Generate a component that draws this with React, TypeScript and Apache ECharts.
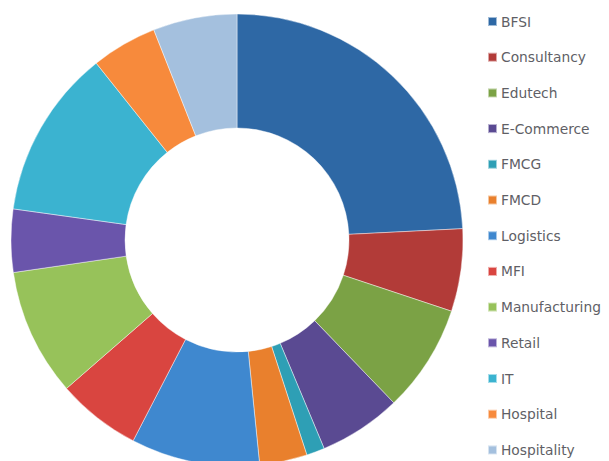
import React, { useEffect, useRef } from "react";
import * as echarts from "echarts";

const categories = [
  "BFSI",
  "Consultancy",
  "Edutech",
  "E-Commerce",
  "FMCG",
  "FMCD",
  "Logistics",
  "MFI",
  "Manufacturing",
  "Retail",
  "IT",
  "Hospital",
  "Hospitality",
];

const shares = [24.2, 5.9, 7.7, 5.9, 1.3, 3.4, 9.2, 6.0, 9.1, 4.5, 12.1, 4.7, 6.0];

const colors = [
  "#2E68A5",
  "#B23B38",
  "#7BA245",
  "#5A4A92",
  "#2E9FB5",
  "#E9802D",
  "#3F88CF",
  "#D94540",
  "#97C25A",
  "#6A55AB",
  "#3BB3D0",
  "#F78A3C",
  "#A4C0DE",
];

export default function App() {
  const ref = useRef<HTMLDivElement>(null);

  useEffect(() => {
    document.body.style.margin = "0";
    if (!ref.current) return;
    const chart = echarts.init(ref.current, null, { renderer: "svg" });
    chart.setOption({
      animation: false,
      backgroundColor: "#ffffff",
      color: colors,
      legend: {
        type: "plain",
        orient: "vertical",
        left: 487,
        top: 14.5,
        padding: 0,
        icon: "rect",
        itemWidth: 9,
        itemHeight: 9,
        itemGap: 21.7,
        textStyle: {
          fontFamily: "DejaVu Sans",
          fontSize: 13.8,
          lineHeight: 14,
          color: "#5f5f66",
          padding: [0, 0, 0, -1],
        },
        data: categories,
      },
      series: [
        {
          type: "pie",
          center: [237, 240],
          radius: [112, 226],
          startAngle: 90,
          clockwise: true,
          label: { show: false },
          labelLine: { show: false },
          emphasis: { disabled: true },
          itemStyle: {
            borderColor: "rgba(255,255,255,0.55)",
            borderWidth: 0.8,
          },
          data: categories.map((name, i) => ({ name, value: shares[i] })),
        },
      ],
    });
    return () => chart.dispose();
  }, []);

  return <div ref={ref} style={{ width: 609, height: 461 }} />;
}
